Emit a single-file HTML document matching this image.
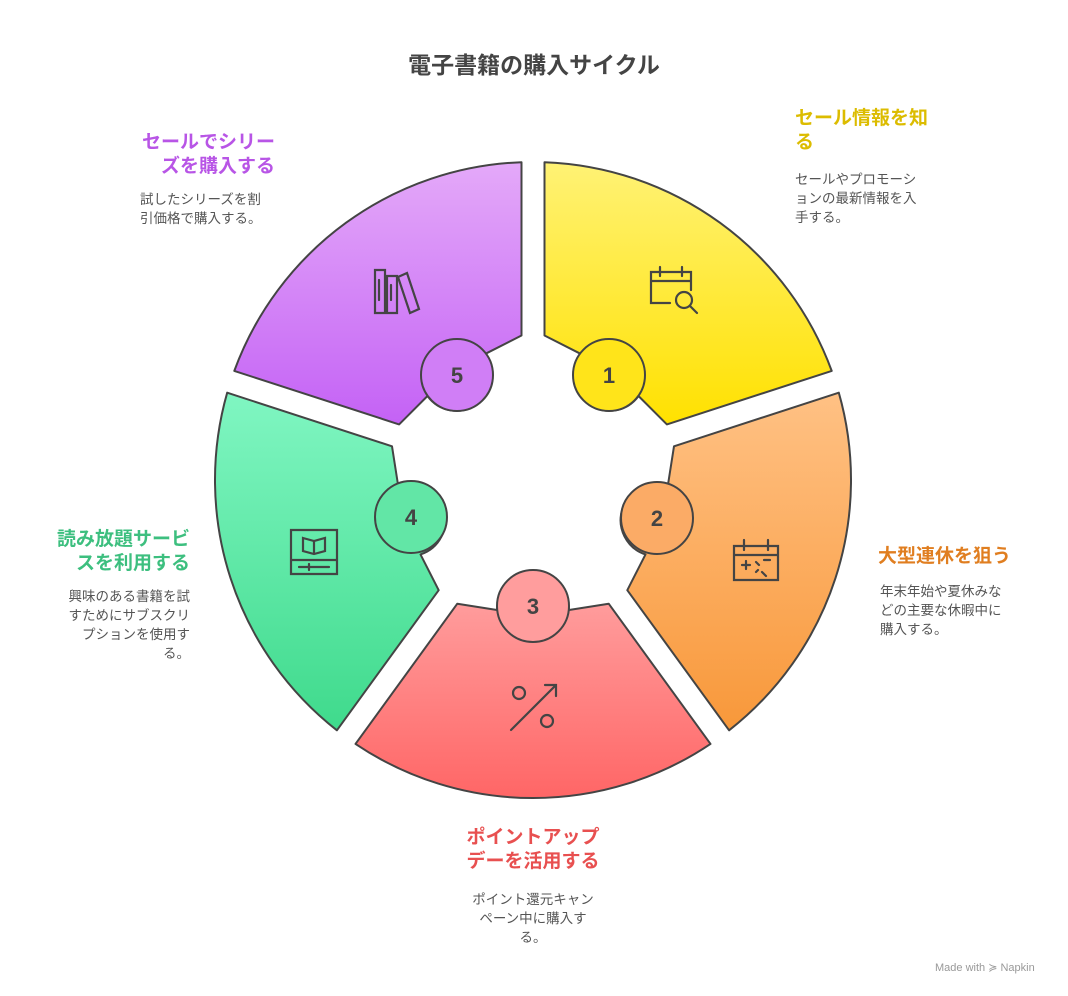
<!DOCTYPE html>
<html><head><meta charset="utf-8"><style>
body{margin:0;background:#fff;width:1068px;height:996px;overflow:hidden;font-family:"Liberation Sans","Noto Sans CJK JP",sans-serif;}
svg{position:absolute;left:0;top:0}
.t{position:absolute;font-weight:bold;font-size:19px;line-height:24px}
.d{position:absolute;font-size:13.5px;line-height:19px;color:#555}
</style></head><body>
<svg id="s" width="1068" height="996" viewBox="0 0 1068 996">
<defs>
<linearGradient id="g1" x1="0" y1="0" x2="0" y2="1"><stop offset="0" stop-color="#fff275"/><stop offset="1" stop-color="#ffe100"/></linearGradient>
<linearGradient id="g2" x1="0" y1="0" x2="0" y2="1"><stop offset="0" stop-color="#ffc184"/><stop offset="1" stop-color="#f8983a"/></linearGradient>
<linearGradient id="g3" x1="0" y1="0" x2="0" y2="1"><stop offset="0" stop-color="#ffa4a4"/><stop offset="1" stop-color="#ff6666"/></linearGradient>
<linearGradient id="g4" x1="0" y1="0" x2="0" y2="1"><stop offset="0" stop-color="#80f6c2"/><stop offset="1" stop-color="#3fda8c"/></linearGradient>
<linearGradient id="g5" x1="0" y1="0" x2="0" y2="1"><stop offset="0" stop-color="#e4a9f9"/><stop offset="1" stop-color="#c462f5"/></linearGradient>
</defs>
<g id="segs"></g>
<g fill="none" stroke="#444" stroke-width="2.2" stroke-linecap="round">
<path d="M670 303 H651 V272 H691 V290 M651 281 H691 M660 267 V276 M682 267 V276"/>
<circle cx="684" cy="300" r="8"/><path d="M690 306 L697 313"/>
<path d="M734 546 H778 V580 H734 Z M734 555 H778 M744 540 V550 M768 540 V550 M742 565 L750 565 M746 561 L746 569 M756 562 L759 565 M764 560 L770 560 M762 572 L766 576 M756 572 L758 570"/>
<circle cx="519" cy="693" r="6"/><circle cx="547" cy="721" r="6"/><path d="M511 730 L556 685 M545 685 H556 V696"/>
<path d="M291 530 H337 V574 H291 Z M291 560 H337 M299 567 H329 M309 564 V570 M303 538 L314 541 L325 538 V551 L314 554 L303 551 Z M314 541 V554"/>
<path d="M375 270 H385 V313 H375 Z M387 276 H397 V313 H387 Z M379 280 V300 M391 285 V300 M398 277 L407 273 L419 309 L410 313 Z"/>
</g>
<g font-family="Liberation Sans, sans-serif" font-weight="bold" font-size="22" fill="#444" text-anchor="middle">
<circle cx="609" cy="375" r="36" fill="#ffe41a" stroke="#444" stroke-width="2"/><text x="609" y="383">1</text>
<circle cx="657" cy="518" r="36" fill="#fbab66" stroke="#444" stroke-width="2"/><text x="657" y="526">2</text>
<circle cx="533" cy="606" r="36" fill="#ff9d9d" stroke="#444" stroke-width="2"/><text x="533" y="614">3</text>
<circle cx="411" cy="517" r="36" fill="#62e6a6" stroke="#444" stroke-width="2"/><text x="411" y="525">4</text>
<circle cx="457" cy="375" r="36" fill="#d07ef6" stroke="#444" stroke-width="2"/><text x="457" y="383">5</text>
</g>
</svg>
<script>
(function(){
var cx=533,cy=480,R=318,r=145,g=11.5,rc=130,cr=36;
var fills=["url(#g1)","url(#g2)","url(#g3)","url(#g4)","url(#g5)"];
var out="";
function f(x,y){return x.toFixed(1)+" "+y.toFixed(1);}
for(var i=0;i<5;i++){
 var a1=(-90+72*i)*Math.PI/180,a2=(-18+72*i)*Math.PI/180,am=(a1+a2)/2;
 function P(a,t,s){var u=[Math.cos(a),Math.sin(a)],n=[-Math.sin(a),Math.cos(a)];return f(cx+t*u[0]+s*g*n[0],cy+t*u[1]+s*g*n[1]);}
 var to=Math.sqrt(R*R-g*g),ti=Math.sqrt(r*r-g*g);
 var m=[Math.cos(am),Math.sin(am)],n=[-Math.sin(am),Math.cos(am)];
 var C=[cx+rc*m[0],cy+rc*m[1]];
 var cp=f(C[0]+cr*n[0],C[1]+cr*n[1]), cmid=f(C[0]-cr*m[0],C[1]-cr*m[1]), cmn=f(C[0]-cr*n[0],C[1]-cr*n[1]);
 out+='<path d="M'+P(a1,to,1)+' A'+R+' '+R+' 0 0 1 '+P(a2,to,-1)+' L'+P(a2,ti,-1)+' L'+cp+' A'+cr+' '+cr+' 0 0 1 '+cmid+' A'+cr+' '+cr+' 0 0 1 '+cmn+' L'+P(a1,ti,1)+' Z" fill="'+fills[i]+'" stroke="#444" stroke-width="2" stroke-linejoin="round"/>';
}
document.getElementById("segs").innerHTML=out;
})();
</script>
<div style="position:absolute;left:0;width:1068px;top:50px;text-align:center;font-size:23px;font-weight:bold;color:#444;line-height:30px">電子書籍の購入サイクル</div>
<div class="t" style="left:795px;top:107px;color:#dcbc00">セール情報を知<br>る</div>
<div class="d" style="left:795px;top:170px">セールやプロモーシ<br>ョンの最新情報を入<br>手する。</div>
<div class="t" style="left:100px;width:175px;top:131px;text-align:right;color:#b855e6">セールでシリー<br>ズを購入する</div>
<div class="d" style="left:140px;top:190px">試したシリーズを割<br>引価格で購入する。</div>
<div class="t" style="left:878px;top:545px;color:#e07e20">大型連休を狙う</div>
<div class="d" style="left:880px;top:582px">年末年始や夏休みな<br>どの主要な休暇中に<br>購入する。</div>
<div class="t" style="left:383px;width:300px;top:826px;text-align:center;color:#e85050">ポイントアップ<br>デーを活用する</div>
<div class="d" style="left:383px;width:300px;top:890px;text-align:center">ポイント還元キャン<br>ペーン中に購入す<br>る。</div>
<div class="t" style="left:20px;width:170px;top:528px;text-align:right;color:#3dbf7f">読み放題サービ<br>スを利用する</div>
<div class="d" style="left:20px;width:170px;top:587px;text-align:right">興味のある書籍を試<br>すためにサブスクリ<br>プションを使用す<br>る。</div>
<div style="position:absolute;left:935px;top:961px;font-size:11px;color:#999">Made with ≽ Napkin</div>
</body></html>
